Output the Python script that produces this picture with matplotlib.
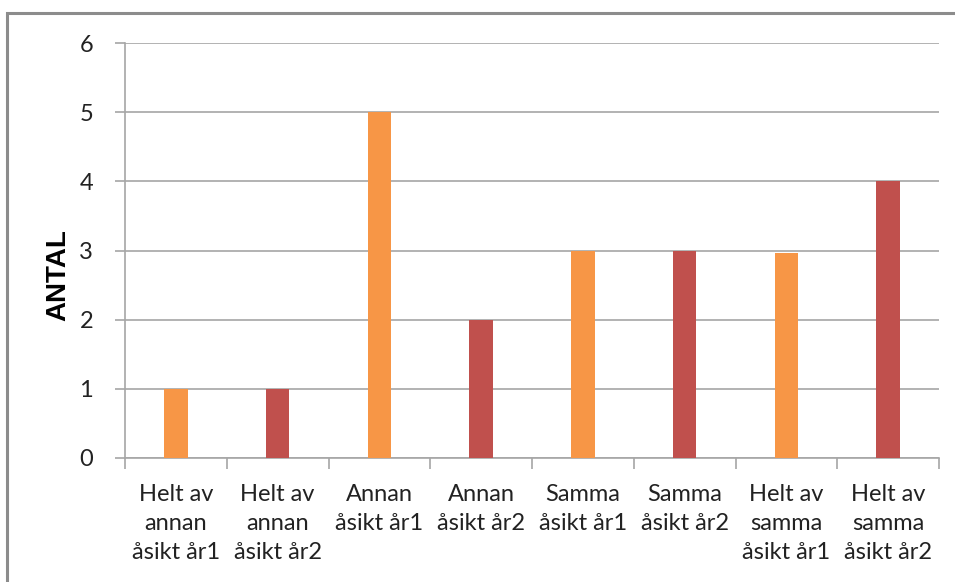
import matplotlib.pyplot as plt
from matplotlib.patches import Rectangle

# Data
categories = [
    "Helt av\nannan\nåsikt år1",
    "Helt av\nannan\nåsikt år2",
    "Annan\nåsikt år1",
    "Annan\nåsikt år2",
    "Samma\nåsikt år1",
    "Samma\nåsikt år2",
    "Helt av\nsamma\nåsikt år1",
    "Helt av\nsamma\nåsikt år2",
]
values = [1, 1, 5, 2, 3, 3, 2.96, 4]
bar_colors = ["#F79646", "#C0504D"] * 4
y_ticks = [0, 1, 2, 3, 4, 5, 6]

fig = plt.figure(figsize=(9.55, 5.82), dpi=100)
ax = fig.add_axes([125 / 955, 1 - 458 / 582, (939 - 125) / 955, (458 - 43) / 582])

# figure frame (left and top visible in the reference)
fig.patches.append(Rectangle((7 / 955, -0.1), 1.2, 1 - 13 / 582 + 0.1,
                             transform=fig.transFigure, fill=False,
                             edgecolor="#8c8c8c", linewidth=2.2, zorder=0))

x = list(range(len(categories)))
ax.bar(x, values, width=0.23, color=bar_colors, zorder=3)

ax.set_xlim(-0.5, len(categories) - 0.5)
ax.set_ylim(0, 6)
ax.set_yticks(y_ticks)
ax.set_yticklabels([str(t) for t in y_ticks], fontsize=17, fontfamily="Lato", color="#222222")
ax.yaxis.grid(True, color="#a6a6a6", linewidth=1.2, zorder=0)
ax.set_axisbelow(True)

# category labels centered, ticks at category boundaries
ax.set_xticks(x)
ax.set_xticklabels(categories, fontsize=17, fontfamily="Lato", color="#222222",
                   linespacing=1.45, va="top")
ax.tick_params(axis="x", length=0, pad=19)
ax.set_xticks([i - 0.5 for i in range(len(categories) + 1)], minor=True)
ax.tick_params(axis="x", which="minor", length=8, color="#a6a6a6", width=1.2)
ax.tick_params(axis="y", length=7, color="#a6a6a6", width=1.2, pad=16)

for side in ["top", "right"]:
    ax.spines[side].set_visible(False)
for side in ["left", "bottom"]:
    ax.spines[side].set_color("#a6a6a6")
    ax.spines[side].set_linewidth(1.2)

fig.text(58 / 955, 1 - 275 / 582, "ANTAL", rotation=90, ha="center", va="center",
         fontsize=20, fontweight="bold", fontfamily="Liberation Sans")

fig.savefig("out.png", dpi=100)
